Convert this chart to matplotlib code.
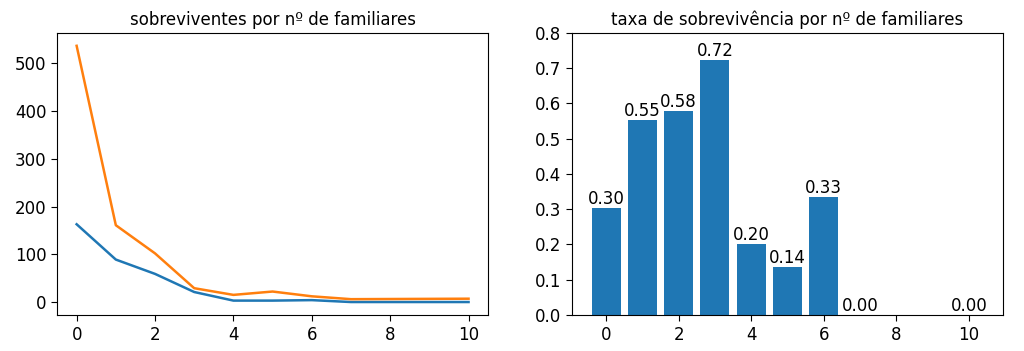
import matplotlib
matplotlib.use("Agg")
import matplotlib.pyplot as plt

# family size (SibSp + Parch)
familiares = [0, 1, 2, 3, 4, 5, 6, 7, 10]
sobreviventes = [163, 89, 59, 21, 3, 3, 4, 0, 0]
total = [537, 161, 102, 29, 15, 22, 12, 6, 7]
taxa = [0.3035, 0.5528, 0.5784, 0.7241, 0.20, 0.1364, 0.3333, 0.0, 0.0]

plt.rcParams["font.size"] = 12
plt.rcParams["lines.linewidth"] = 1.8
plt.rcParams["xtick.major.size"] = 4.2
plt.rcParams["ytick.major.size"] = 4.2

fig = plt.figure(figsize=(10.24, 3.51), dpi=100)

ax1 = fig.add_axes([0.0557, 0.103, 0.421, 0.803])
ax1.plot(familiares, sobreviventes)
ax1.plot(familiares, total)
ax1.set_title("sobreviventes por nº de familiares", fontsize=12)
ax1.set_xticks([0, 2, 4, 6, 8, 10])

ax2 = fig.add_axes([0.5586, 0.103, 0.421, 0.803])
bars = ax2.bar(familiares, taxa)
ax2.bar_label(bars, fmt="%.2f", fontsize=12, padding=0)
ax2.set_ylim(0, 0.8)
ax2.set_xticks([0, 2, 4, 6, 8, 10])
ax2.set_title("taxa de sobrevivência por nº de familiares", fontsize=12)

fig.savefig("out.png", dpi=100)
